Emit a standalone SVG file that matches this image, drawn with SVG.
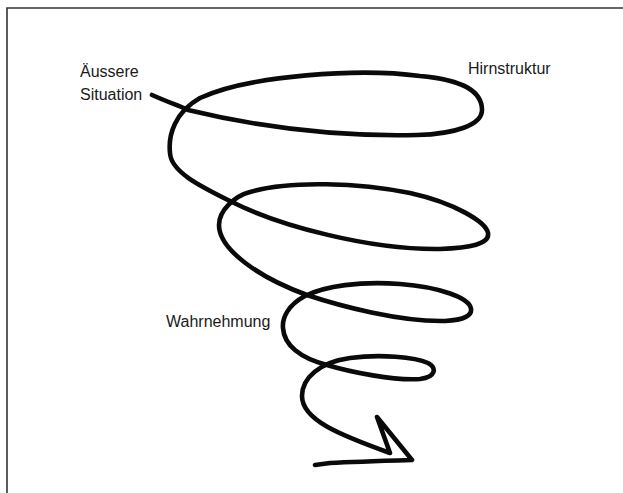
<svg xmlns="http://www.w3.org/2000/svg" width="623" height="493" viewBox="0 0 623 493">
<style>
.lbl{font-family:"Liberation Sans",Arial,sans-serif;font-size:16px;fill:#1a1a1a}
.sp{fill:none;stroke:#0a0a0a;stroke-width:4.6;stroke-linecap:round;stroke-linejoin:round}
</style>
<rect width="623" height="493" fill="#ffffff"/>
<path d="M7,493 V8 H623" fill="none" stroke="#333" stroke-width="1.6"/>
<g id="spiral">
<path class="sp" d="M152,95 C170,103 180,106 188,110 C250,125 330,137 417,135 C455,134 482,125 482,110 C482,92 465,80 420,76 C360,68 250,75 200,98 C175,112 168,135 170,153 C171,172 200,186 232,202 C280,226 370,250 440,249 C470,248 490,244 488,233 C486,222 455,203 410,193 C360,183 290,180 250,192 C235,196 219,210 219,225 C219,250 260,278 307,295 C340,306 400,322 445,321 C465,320 472,315 471,309 C470,298 440,287 400,284 C360,281 325,286 305,296 C288,305 282,318 283,328 C284,345 300,358 327,365 C350,372 395,381 420,379 C436,377 437,368 428,363 C415,357 380,354 350,358 C320,362 302,378 302,396 C302,420 340,435 390,453 L377,417 L412,460 C380,461 350,462 330,463 L315,465"/>
</g>
<g id="label-aussere"><text class="lbl" x="80" y="77">Äussere</text><text class="lbl" x="80" y="99.5">Situation</text></g>
<g id="label-hirnstruktur"><text class="lbl" x="468" y="74">Hirnstruktur</text></g>
<g id="label-wahrnehmung"><text class="lbl" x="166" y="327">Wahrnehmung</text></g>
</svg>
